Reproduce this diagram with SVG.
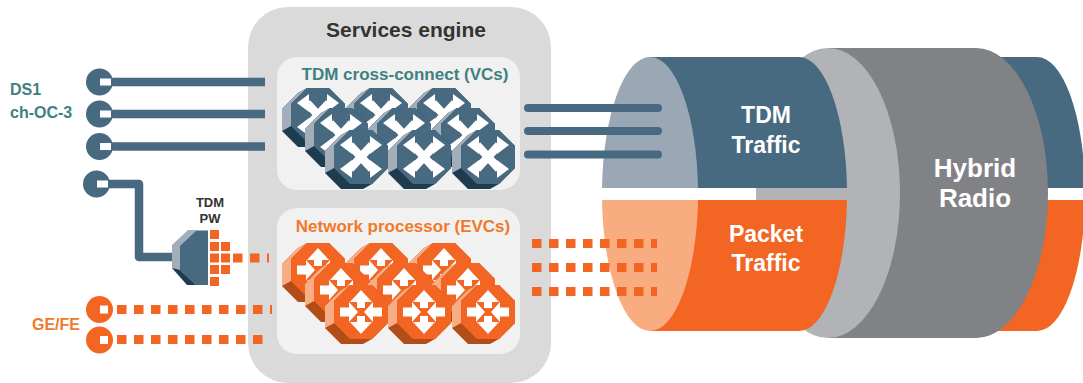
<svg xmlns="http://www.w3.org/2000/svg" width="1083" height="383" viewBox="0 0 1083 383">
<style>
  text { font-family: "Liberation Sans", Arial, Helvetica, sans-serif; font-weight: bold; }
  .teal { fill: #3f8080; }
  .org-t { fill: #f07a2a; }
  .dark-t { fill: #333333; }
  .white-t { fill: #ffffff; }
  .tdm-wire { stroke: #476a80; stroke-width: 8.5; fill: none; stroke-linejoin: round; }
  .tdm-trunk { stroke: #476a80; stroke-width: 8; stroke-linecap: round; fill: none; }
  .pkt-wire { stroke: #f26522; stroke-width: 9; stroke-dasharray: 9.5 7.5; fill: none; }
  .port-tdm { fill: #476a80; }
  .port-pkt { fill: #f26522; }
  .notch { fill: #ffffff; }
  .pkt-sq { fill: #f26522; }
</style>
<defs>
  <!-- TDM cross-connect switch: extruded octagon with crossing arrows -->
  <g id="xc-icon">
    <polygon fill="#1e3c50" points="16,0 38,0 54,16 54,38 38,54 29,59 7,59 -9,43 -9,21 7,5"/>
    <polygon fill="#a3aebb" points="0,38 0,16 16,0 7,5 -9,21 -9,43"/>
    <polygon fill="#476a80" points="16,0 38,0 54,16 54,38 38,54 16,54 0,38 0,16"/>
    <path d="M16,15 L38,39 M38,15 L16,39" stroke="#ffffff" stroke-width="8.5"/>
    <g fill="#ffffff">
      <polygon points="6,15 18,6 18,24"/>
      <polygon points="48,15 36,6 36,24"/>
      <polygon points="6,39 18,30 18,48"/>
      <polygon points="48,39 36,30 36,48"/>
    </g>
  </g>
  <!-- Packet processor: extruded octagon with four arrows -->
  <g id="np-icon">
    <polygon fill="#b34d17" points="16,0 38,0 54,16 54,38 38,54 29,59 7,59 -9,43 -9,21 7,5"/>
    <polygon fill="#f9ad84" points="0,38 0,16 16,0 7,5 -9,21 -9,43"/>
    <polygon fill="#f26522" points="16,0 38,0 54,16 54,38 38,54 16,54 0,38 0,16"/>
    <g fill="#ffffff">
      <polygon points="27,5 16,17 23,17 23,23 31,23 31,17 38,17"/>
      <polygon points="27,49 16,37 23,37 23,31 31,31 31,37 38,37"/>
      <polygon points="24,27 15,17 15,22.5 6,22.5 6,31.5 15,31.5 15,37"/>
      <polygon points="30,27 39,17 39,22.5 48,22.5 48,31.5 39,31.5 39,37"/>
    </g>
  </g>
</defs>

<!-- Services engine container -->
<g id="services-engine">
  <rect x="248" y="7" width="303" height="376" rx="40" fill="#dadada"/>
  <text x="406" y="37" font-size="21" text-anchor="middle" class="dark-t">Services engine</text>
</g>

<!-- Hybrid radio: traffic tubes passing through the radio disc -->
<g id="hybrid-radio">
  <path d="M900,57 H1037 A48,137 0 0 1 1085,188 H900 Z" fill="#476a80"/>
  <path d="M900,331 H1037 A48,137 0 0 0 1085,200 H900 Z" fill="#f26522"/>
  <path d="M828,48 H976 A72,145 0 0 1 976,338 H828 Z" fill="#808285"/>
  <ellipse cx="828" cy="193" rx="72" ry="145" fill="#b1b3b6"/>
  <text x="975" y="177" font-size="26" text-anchor="middle" class="white-t">Hybrid</text>
  <text x="975" y="207" font-size="26" text-anchor="middle" class="white-t">Radio</text>
</g>
<g id="tdm-traffic">
  <path d="M650,57 H799 A48,137 0 0 1 847,188 H650 Z" fill="#476a80"/>
  <path d="M602,188 A48,137 0 0 1 650,57 A48,137 0 0 1 698,188 Z" fill="#9aa7b4"/>
  <text x="766" y="123" font-size="23" text-anchor="middle" class="white-t">TDM</text>
  <text x="766" y="153" font-size="23" text-anchor="middle" class="white-t">Traffic</text>
</g>
<g id="packet-traffic">
  <path d="M650,331 H799 A48,137 0 0 0 847,200 H650 Z" fill="#f26522"/>
  <path d="M602,200 A48,137 0 0 0 650,331 A48,137 0 0 0 698,200 Z" fill="#f8ac80"/>
  <text x="766" y="242" font-size="23" text-anchor="middle" class="white-t">Packet</text>
  <text x="766" y="271" font-size="23" text-anchor="middle" class="white-t">Traffic</text>
</g>

<!-- Connectors -->
<g id="connectors">
  <line class="tdm-wire" x1="100" y1="82" x2="265" y2="82"/>
  <line class="tdm-wire" x1="100" y1="114" x2="265" y2="114"/>
  <line class="tdm-wire" x1="100" y1="146.5" x2="265" y2="146.5"/>
  <path class="tdm-wire" d="M100,184 H139 V257 H178"/>
  <line class="pkt-wire" x1="233" y1="258" x2="269" y2="258"/>
  <line class="pkt-wire" x1="117" y1="309.5" x2="272" y2="309.5"/>
  <line class="pkt-wire" x1="117" y1="339.5" x2="263" y2="339.5"/>
  <line class="tdm-trunk" x1="528" y1="108" x2="658" y2="108"/>
  <line class="tdm-trunk" x1="528" y1="131" x2="658" y2="131"/>
  <line class="tdm-trunk" x1="528" y1="154.5" x2="658" y2="154.5"/>
  <line class="pkt-wire" x1="532" y1="243.5" x2="657" y2="243.5"/>
  <line class="pkt-wire" x1="532" y1="267.5" x2="657" y2="267.5"/>
  <line class="pkt-wire" x1="532" y1="291.5" x2="657" y2="291.5"/>
</g>

<!-- TDM ports -->
<g id="tdm-ports">
  <circle class="port-tdm" cx="99.5" cy="82" r="13.5"/>
  <rect class="notch" x="100" y="78.5" width="11" height="7"/>
  <circle class="port-tdm" cx="99.5" cy="114" r="13.5"/>
  <rect class="notch" x="100" y="110.5" width="11" height="7"/>
  <circle class="port-tdm" cx="99.5" cy="146.5" r="13.5"/>
  <rect class="notch" x="100" y="143" width="11" height="7"/>
  <circle class="port-tdm" cx="96.5" cy="184" r="13.5"/>
  <rect class="notch" x="97" y="180.5" width="11" height="7"/>
  <text x="10" y="95" font-size="16" class="teal">DS1</text>
  <text x="10" y="118" font-size="16" class="teal">ch-OC-3</text>
</g>

<!-- Ethernet ports -->
<g id="ge-ports">
  <circle class="port-pkt" cx="99.5" cy="309.5" r="13.5"/>
  <rect class="notch" x="100" y="305.5" width="8" height="8"/>
  <circle class="port-pkt" cx="99.5" cy="340" r="13.5"/>
  <rect class="notch" x="100" y="336" width="8" height="8"/>
  <text x="32" y="330" font-size="16" class="org-t">GE/FE</text>
</g>

<!-- TDM pseudowire interworking -->
<g id="tdm-pw">
  <polygon fill="#a3aebb" points="172,245 188,230 208,230 208,285 190,285 172,268"/>
  <polygon fill="#1e3c50" points="172,268 180,270 196,285 187,285"/>
  <polygon fill="#476a80" points="180,246 196,231 208,231 208,285 196,285 180,270"/>
  <rect class="pkt-sq" x="210" y="230" width="9" height="9"/>
  <rect class="pkt-sq" x="210" y="242" width="9" height="9"/>
  <rect class="pkt-sq" x="210" y="253.5" width="9" height="9"/>
  <rect class="pkt-sq" x="210" y="265" width="9" height="9"/>
  <rect class="pkt-sq" x="210" y="277" width="9" height="9"/>
  <rect class="pkt-sq" x="221" y="242" width="9" height="9"/>
  <rect class="pkt-sq" x="221" y="253.5" width="9" height="9"/>
  <rect class="pkt-sq" x="221" y="265" width="9" height="9"/>
  <text x="210" y="207" font-size="13" text-anchor="middle" class="dark-t">TDM</text>
  <text x="210" y="223" font-size="13" text-anchor="middle" class="dark-t">PW</text>
</g>

<!-- TDM cross-connect -->
<g id="tdm-cross-connect">
  <rect x="277" y="57" width="243" height="133" rx="20" fill="#f1f1f1"/>
  <text x="405" y="80" font-size="17" text-anchor="middle" class="teal">TDM cross-connect (VCs)</text>
  <use href="#xc-icon" x="291" y="88"/>
  <use href="#xc-icon" x="354" y="88"/>
  <use href="#xc-icon" x="417" y="88"/>
  <use href="#xc-icon" x="314" y="108"/>
  <use href="#xc-icon" x="377" y="108"/>
  <use href="#xc-icon" x="441" y="108"/>
  <use href="#xc-icon" x="334" y="130"/>
  <use href="#xc-icon" x="397" y="130"/>
  <use href="#xc-icon" x="461" y="130"/>
</g>

<!-- Network processor -->
<g id="network-processor">
  <rect x="277" y="208" width="243" height="146" rx="20" fill="#f1f1f1"/>
  <text x="403" y="232" font-size="17" text-anchor="middle" class="org-t">Network processor (EVCs)</text>
  <use href="#np-icon" x="291" y="243"/>
  <use href="#np-icon" x="354" y="243"/>
  <use href="#np-icon" x="417" y="243"/>
  <use href="#np-icon" x="314" y="263"/>
  <use href="#np-icon" x="377" y="263"/>
  <use href="#np-icon" x="441" y="263"/>
  <use href="#np-icon" x="334" y="285"/>
  <use href="#np-icon" x="397" y="285"/>
  <use href="#np-icon" x="461" y="285"/>
</g>
</svg>
